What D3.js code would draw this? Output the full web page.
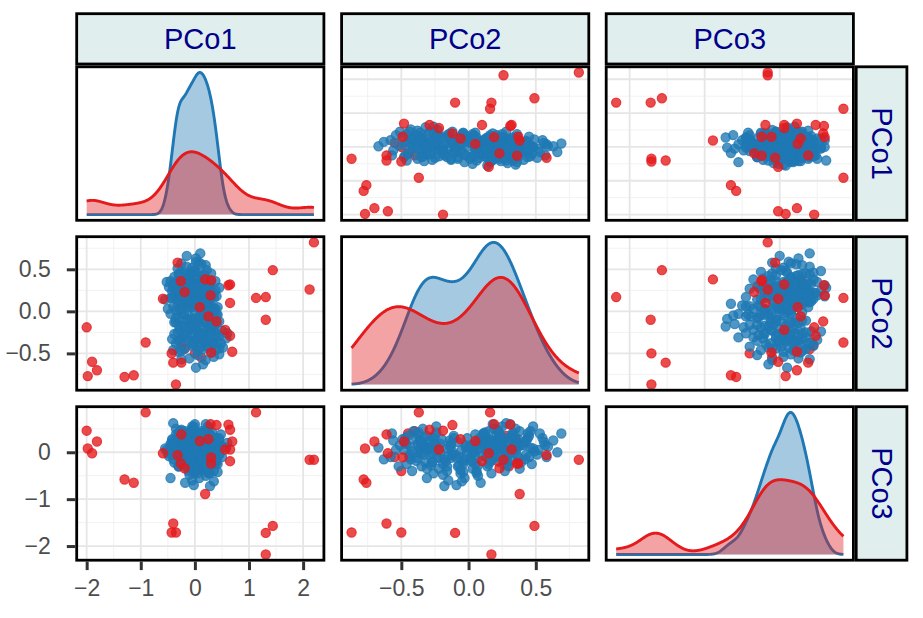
<!DOCTYPE html>
<html>
<head>
<meta charset="utf-8">
<script src="https://cdn.jsdelivr.net/npm/d3@7"></script>
<style>
  body { margin: 0; background: #fff; }
  svg { display: block; font-family: "Liberation Sans", Arial, Helvetica, sans-serif; }
</style>
</head>
<body>
<div id="chart"></div>
<script>
// variables of the pairs plot
const vars = ["PCo1", "PCo2", "PCo3"];

// red group; the first ten rows come before the blue rows in the data (drawn underneath)
const redPCo1 = [-0.30, -0.20, -0.12, -0.05, 0.00, 0.05, -0.25, 0.12, -0.15, 0.20,
  -2.00, -1.90, -1.81, -1.98, -1.30, -1.13, -0.91, -0.35, -0.32, -0.26, -0.19, -0.59,
  0.09, 0.19, 0.30, 0.29, 0.25, 0.62, 0.65, 0.56, 0.65, 0.69, 0.30, -0.43, -0.40, -0.25,
  1.13, 1.31, 1.44, 1.31, 2.12, 2.20, 0.40, 0.65];
const redPCo2 = [0.30, -0.45, 0.22, 0.35, -0.50, 0.18, -0.40, -0.55, 0.28, 0.25,
  -0.19, -0.60, -0.70, -0.77, -0.78, -0.76, -0.37, -0.87, 0.58, 0.36, 0.23, 0.15,
  0.05, 0.38, 0.37, 0.19, -0.06, 0.31, 0.32, -0.22, -0.29, -0.48, -0.49, -0.50, -0.61, -0.61,
  0.16, 0.17, 0.49, -0.10, 0.26, 0.82, -0.12, 0.10];
const redPCo3 = [-0.30, 0.40, -0.20, 0.30, -0.40, 0.20, 0.45, -0.10, 0.35, 0.10,
  0.46, -0.02, 0.23, 0.08, -0.58, -0.65, 0.85, -1.71, -0.06, -0.24, -0.34, -0.02,
  0.24, -0.89, -0.24, 0.60, 0.28, 0.59, 0.06, 0.06, 0.48, 0.23, -0.11, -1.71, -1.52, 0.38,
  0.85, -2.18, -1.57, -1.72, -0.16, -0.16, 0.58, -0.19];
const redUnderCount = 10;

// blue group (main cloud); each line is one PCo2 band, same order in all three arrays
const bluePCo2 = [
  -0.67, -0.63,
  -0.58, -0.56, -0.54, -0.52, -0.57, -0.51,
  -0.48, -0.47, -0.46, -0.45, -0.44, -0.43, -0.42, -0.41, -0.49, -0.44, -0.47, -0.43, -0.46, -0.42,
  -0.38, -0.37, -0.36, -0.35, -0.34, -0.33, -0.32, -0.31, -0.39, -0.36, -0.33, -0.38, -0.31, -0.39, -0.35, -0.34, -0.37, -0.32, -0.36, -0.30, -0.38, -0.33, -0.35, -0.31,
  -0.28, -0.27, -0.26, -0.25, -0.24, -0.23, -0.22, -0.21, -0.29, -0.27, -0.26, -0.21, -0.24, -0.28, -0.23, -0.25, -0.22, -0.29, -0.26, -0.24, -0.27, -0.20,
  -0.18, -0.17, -0.16, -0.15, -0.14, -0.13, -0.12, -0.19, -0.11, -0.18, -0.13, -0.16, -0.14, -0.19, -0.12, -0.17, -0.11, -0.15, -0.13,
  -0.08, -0.07, -0.06, -0.05, -0.04, -0.03, -0.02, -0.09, -0.01, -0.04, -0.06, -0.08, -0.03, -0.10, -0.05, -0.02, -0.07, -0.01, -0.09, -0.04,
  0.02, 0.03, 0.04, 0.05, 0.06, 0.07, 0.08, 0.09, 0.05, 0.03, 0.01, 0.08, 0.02, 0.06, 0.04, 0.09, 0.07, 0.01, 0.10, 0.05, 0.03, 0.08, 0.06, 0.04,
  0.11, 0.12, 0.13, 0.14, 0.15, 0.16, 0.17, 0.18, 0.19, 0.13, 0.16, 0.11, 0.14, 0.18, 0.12, 0.17, 0.19, 0.15, 0.16, 0.12, 0.14, 0.18, 0.11, 0.15, 0.17, 0.13, 0.19, 0.16, 0.12, 0.14, 0.18,
  0.21, 0.22, 0.23, 0.24, 0.25, 0.26, 0.27, 0.28, 0.29, 0.22, 0.25, 0.27, 0.23, 0.21, 0.28, 0.24, 0.29, 0.26, 0.23, 0.27, 0.21, 0.25, 0.28, 0.22, 0.26, 0.24, 0.29, 0.30, 0.23, 0.27,
  0.31, 0.32, 0.33, 0.34, 0.35, 0.36, 0.37, 0.38, 0.39, 0.31, 0.35, 0.37, 0.33, 0.36, 0.39, 0.32, 0.34, 0.38, 0.30, 0.36, 0.33, 0.37,
  0.42, 0.43, 0.44, 0.46, 0.47, 0.45, 0.48, 0.41, 0.49, 0.44, 0.42, 0.46, 0.48, 0.43, 0.45,
  0.52, 0.55, 0.57, 0.58, 0.53, 0.56, 0.51, 0.59,
  0.63, 0.66, 0.69];
const bluePCo1 = [
  0.02, 0.15,
  0.20, -0.10, 0.35, 0.05, -0.25, 0.45,
  -0.30, 0.05, 0.38, 0.15, -0.18, 0.52, 0.22, -0.05, 0.30, 0.45, -0.25, 0.10, -0.40, 0.25,
  -0.35, 0.12, 0.42, -0.10, 0.25, 0.02, 0.58, -0.22, 0.35, 0.18, -0.42, 0.48, 0.08, -0.02, 0.28, -0.28, 0.32, -0.15, 0.20, 0.40, -0.05, 0.15, -0.30, 0.05,
  -0.15, 0.20, 0.40, -0.32, 0.05, 0.50, -0.08, 0.30, 0.12, -0.38, 0.60, 0.00, 0.24, -0.22, 0.35, 0.15, -0.28, 0.45, -0.02, 0.28, 0.08, -0.12,
  -0.25, 0.10, 0.35, -0.05, 0.22, -0.38, 0.45, 0.02, -0.15, 0.28, 0.15, -0.30, 0.40, -0.10, 0.18, -0.20, 0.05, 0.32, -0.35,
  -0.30, 0.05, 0.25, -0.12, 0.40, -0.45, 0.15, -0.02, 0.32, -0.20, 0.10, -0.35, 0.20, -0.08, 0.35, -0.25, 0.28, 0.00, -0.15, 0.42,
  -0.28, 0.10, 0.30, -0.08, -0.40, 0.20, 0.00, -0.18, 0.42, -0.50, 0.12, -0.32, 0.25, -0.12, 0.35, -0.22, 0.05, -0.35, 0.18, -0.02, 0.38, -0.15, 0.28, -0.25,
  -0.05, 0.20, -0.30, 0.08, -0.18, 0.35, -0.42, 0.00, -0.10, 0.25, -0.25, 0.12, -0.55, 0.40, -0.15, 0.05, -0.35, 0.18, -0.02, -0.22, 0.28, -0.38, 0.15, -0.12, 0.30, -0.28, 0.10, -0.45, 0.22, -0.08, 0.02,
  -0.12, 0.15, -0.35, 0.30, -0.05, 0.05, -0.22, 0.45, -0.48, 0.10, -0.28, 0.22, -0.08, 0.35, -0.40, 0.00, -0.18, 0.28, -0.30, 0.18, -0.15, 0.38, -0.02, -0.25, 0.08, -0.42, 0.25, -0.10, 0.12, -0.32,
  -0.20, 0.10, -0.40, 0.25, -0.05, 0.38, -0.30, 0.02, -0.15, 0.20, -0.52, 0.12, -0.25, 0.30, -0.10, 0.05, -0.35, 0.18, -0.02, -0.45, 0.28, -0.12,
  -0.10, 0.15, -0.30, 0.05, -0.20, 0.30, -0.02, -0.38, 0.22, -0.15, 0.10, -0.28, 0.00, 0.18, -0.08,
  -0.05, 0.20, -0.25, 0.08, -0.15, 0.12, -0.32, 0.02,
  0.02, -0.15, 0.10];
const bluePCo3 = [
  0.10, -0.15,
  -0.10, 0.25, 0.05, -0.30, 0.40, 0.15,
  0.05, 0.20, -0.25, 0.35, -0.10, 0.12, -0.40, 0.45, 0.28, -0.05, 0.30, -0.15, 0.18, 0.02,
  0.18, 0.00, 0.22, -0.30, 0.50, 0.15, 0.10, 0.35, -0.18, 0.08, -0.05, 0.38, -0.55, 0.28, -0.02, 0.12, 0.42, -0.22, 0.25, 0.05, -0.12, 0.30, 0.20, -0.35,
  0.12, -0.20, 0.30, 0.05, 0.42, -0.10, -0.35, 0.18, -0.05, -0.22, 0.20, 0.00, 0.55, -0.28, 0.08, 0.35, -0.12, 0.25, -0.45, 0.15, -0.02, 0.28,
  -0.15, 0.08, -0.40, -0.60, 0.25, 0.20, -0.05, -0.25, 0.35, -0.72, -0.12, -0.30, 0.12, -0.48, 0.02, -0.20, 0.30, -0.08, 0.15,
  -0.30, -0.10, -0.45, 0.05, -0.20, -0.55, 0.15, -0.70, 0.00, -0.25, -0.38, 0.22, -0.15, -0.05, -0.62, 0.10, -0.28, 0.30, -0.12, -0.42,
  -0.18, -0.35, 0.05, -0.05, 0.20, -0.50, 0.10, -0.65, -0.25, -0.02, -0.12, 0.30, 0.15, -0.40, 0.00, 0.25, -0.28, 0.12, -0.08, 0.38, -0.20, 0.08, -0.45, 0.18,
  0.15, 0.35, -0.10, -0.30, 0.45, 0.05, 0.25, 0.60, -0.05, 0.22, 0.10, 0.40, 0.08, -0.15, 0.30, -0.45, 0.50, 0.12, -0.20, 0.18, 0.28, 0.02, 0.38, -0.25, 0.20, 0.32, -0.08, 0.14, 0.42, 0.00, 0.25,
  0.20, -0.10, 0.38, 0.15, 0.55, -0.25, 0.05, 0.30, -0.08, 0.45, 0.18, -0.40, 0.32, 0.00, 0.62, 0.10, -0.28, 0.25, 0.12, -0.15, 0.35, 0.22, -0.02, 0.48, 0.08, 0.28, -0.20, 0.15, 0.40, 0.02,
  0.10, 0.35, -0.15, 0.20, 0.50, -0.05, 0.28, -0.35, 0.15, 0.60, 0.05, -0.12, 0.42, 0.22, -0.22, 0.30, 0.08, 0.45, -0.02, 0.18, 0.38, 0.12,
  0.22, -0.05, 0.40, 0.10, -0.25, 0.35, 0.55, 0.15, 0.02, 0.30, -0.15, 0.45, 0.08, 0.25, -0.10,
  0.05, 0.30, 0.15, -0.10, 0.40, 0.22, -0.05, 0.12,
  0.25, 0.00, 0.40];

// axis breaks and their labels
const majorBreaks = { PCo1: [-2, -1, 0, 1, 2], PCo2: [-0.5, 0, 0.5], PCo3: [-2, -1, 0] };
const tickLabels = { PCo1: ["\u22122", "\u22121", "0", "1", "2"], PCo2: ["\u22120.5", "0.0", "0.5"], PCo3: ["\u22122", "\u22121", "0"] };

const groups = [
  { key: "blue", color: "#1F78B4", values: { PCo1: bluePCo1, PCo2: bluePCo2, PCo3: bluePCo3 } },
  { key: "red",  color: "#E41A1C", values: { PCo1: redPCo1,  PCo2: redPCo2,  PCo3: redPCo3 } }
];
const blueN = d3.min(vars, v => groups[0].values[v].length);
const redN = d3.min(vars, v => groups[1].values[v].length);
// point layers in data order
const layers = [
  { gr: groups[1], idx: d3.range(0, redUnderCount) },
  { gr: groups[0], idx: d3.range(0, blueN) },
  { gr: groups[1], idx: d3.range(redUnderCount, redN) }
];

const W = 923, H = 618;
const colX = [75.3, 340.2, 604.8], panelW = 250;
const rowY = [65.4, 235.3, 405.3], panelH = 156.3;
const BW = 2.8;                 // border width
const stripFill = "#E0EEEE", stripText = "#00008B";
const font = "\"Liberation Sans\", Arial, sans-serif";

const svg = d3.select("#chart").append("svg")
  .attr("width", W).attr("height", H)
  .attr("viewBox", [0, 0, W, H]);
const defs = svg.append("defs");

// domains: data range + 5% each side (ggplot default)
const ranges = {};
vars.forEach(v => {
  const all = groups[0].values[v].concat(groups[1].values[v]);
  const [lo, hi] = d3.extent(all);
  const pad = (hi - lo) * 0.05;
  ranges[v] = { lo, hi, domain: [lo - pad, hi + pad] };
});

function xScale(c) {
  return d3.scaleLinear().domain(ranges[vars[c]].domain).range([colX[c], colX[c] + panelW]);
}
function yScale(r) {
  return d3.scaleLinear().domain(ranges[vars[r]].domain).range([rowY[r] + panelH, rowY[r]]);
}

function minorBreaks(v) {
  const mj = majorBreaks[v], step = mj[1] - mj[0];
  const out = [];
  for (let b = mj[0] - step / 2; b <= mj[mj.length - 1] + step / 2 + 1e-9; b += step) out.push(b);
  const [a, z] = ranges[v].domain;
  return out.filter(b => b > a && b < z);
}

// gaussian kernel density, bandwidth as R's bw.nrd0
function bwNrd0(v) {
  const s = d3.sort(v);
  const sd = d3.deviation(s);
  const iqr = d3.quantileSorted(s, 0.75) - d3.quantileSorted(s, 0.25);
  const lo = Math.min(sd, iqr / 1.34) || sd || 1;
  return 0.9 * lo * Math.pow(s.length, -0.2);
}
function kde(v, xs) {
  const bw = bwNrd0(v);
  const k = 1 / (Math.sqrt(2 * Math.PI) * bw * v.length);
  return xs.map(x => [x, k * d3.sum(v, t => Math.exp(-0.5 * ((x - t) / bw) ** 2))]);
}

for (let r = 0; r < 3; r++) {
  for (let c = 0; c < 3; c++) {
    const x = xScale(c);
    const px = colX[c], py = rowY[r];
    const clipId = `clip-${r}-${c}`;
    defs.append("clipPath").attr("id", clipId)
      .append("rect").attr("x", px).attr("y", py).attr("width", panelW).attr("height", panelH);

    const g = svg.append("g");
    g.append("rect").attr("x", px).attr("y", py).attr("width", panelW).attr("height", panelH).attr("fill", "#fff");
    const inner = g.append("g").attr("clip-path", `url(#${clipId})`);

    if (r === c) {
      // diagonal: densities per group
      const v = vars[c];
      const { lo, hi } = ranges[v];
      const xs = d3.range(512).map(i => lo + (hi - lo) * i / 511);
      const dens = groups.map(gr => ({ gr, pts: kde(gr.values[v], xs) }));
      const maxD = d3.max(dens, d => d3.max(d.pts, p => p[1]));
      const y = d3.scaleLinear().domain([-0.05 * maxD, 1.05 * maxD]).range([py + panelH, py]);
      const area = d3.area().x(p => x(p[0])).y0(y(0)).y1(p => y(p[1]));
      const line = d3.line().x(p => x(p[0])).y(p => y(p[1]));
      dens.forEach(d => {
        inner.append("path").attr("d", area(d.pts)).attr("fill", d.gr.color).attr("fill-opacity", 0.4);
        inner.append("path").attr("d", line(d.pts)).attr("fill", "none")
          .attr("stroke", d.gr.color).attr("stroke-width", 2.9).attr("stroke-linejoin", "round");
      });
    } else {
      const y = yScale(r);
      const vx = vars[c], vy = vars[r];
      // grid
      minorBreaks(vx).forEach(b => inner.append("line").attr("x1", x(b)).attr("x2", x(b))
        .attr("y1", py).attr("y2", py + panelH).attr("stroke", "#F2F2F2").attr("stroke-width", 1));
      minorBreaks(vy).forEach(b => inner.append("line").attr("y1", y(b)).attr("y2", y(b))
        .attr("x1", px).attr("x2", px + panelW).attr("stroke", "#F2F2F2").attr("stroke-width", 1));
      majorBreaks[vx].forEach(b => inner.append("line").attr("x1", x(b)).attr("x2", x(b))
        .attr("y1", py).attr("y2", py + panelH).attr("stroke", "#E6E6E6").attr("stroke-width", 1.8));
      majorBreaks[vy].forEach(b => inner.append("line").attr("y1", y(b)).attr("y2", y(b))
        .attr("x1", px).attr("x2", px + panelW).attr("stroke", "#E6E6E6").attr("stroke-width", 1.8));
      // points
      layers.forEach(({ gr, idx }) => {
        const xv = gr.values[vx], yv = gr.values[vy];
        inner.selectAll(null).data(idx).enter().append("circle")
          .attr("cx", i => x(xv[i])).attr("cy", i => y(yv[i])).attr("r", 4.6)
          .attr("fill", gr.color).attr("fill-opacity", 0.78)
          .attr("stroke", gr.color).attr("stroke-opacity", 0.78).attr("stroke-width", 1.2);
      });
    }

    g.append("rect").attr("x", px + BW / 2).attr("y", py + BW / 2)
      .attr("width", panelW - BW).attr("height", panelH - BW)
      .attr("fill", "none").attr("stroke", "#000").attr("stroke-width", BW);
  }
}

// left axes (rows 2, 3)
[1, 2].forEach(r => {
  const v = vars[r];
  const ax = d3.axisLeft(yScale(r)).tickValues(majorBreaks[v])
    .tickFormat((d, i) => tickLabels[v][i]).tickSize(8.5).tickPadding(16);
  const a = svg.append("g").attr("transform", `translate(${colX[0]},0)`).call(ax);
  a.select(".domain").remove();
  a.selectAll(".tick line").attr("stroke", "#333").attr("stroke-width", 3);
  a.selectAll(".tick text").attr("fill", "#4D4D4D").attr("font-size", 23).attr("font-family", font);
});

// bottom axes (cols 1, 2)
[0, 1].forEach(c => {
  const v = vars[c];
  const ax = d3.axisBottom(xScale(c)).tickValues(majorBreaks[v])
    .tickFormat((d, i) => tickLabels[v][i]).tickSize(8.5).tickPadding(10);
  const a = svg.append("g").attr("transform", `translate(0,${rowY[2] + panelH})`).call(ax);
  a.select(".domain").remove();
  a.selectAll(".tick line").attr("stroke", "#333").attr("stroke-width", 3);
  a.selectAll(".tick text").attr("fill", "#4D4D4D").attr("font-size", 23).attr("font-family", font);
});

// top strips
const stripTop = 12.3, stripH = rowY[0] - stripTop;
vars.forEach((v, c) => {
  svg.append("rect").attr("x", colX[c] + BW / 2).attr("y", stripTop + BW / 2)
    .attr("width", panelW - BW).attr("height", stripH - BW)
    .attr("fill", stripFill).attr("stroke", "#000").attr("stroke-width", BW);
  svg.append("text").attr("x", colX[c] + panelW / 2).attr("y", stripTop + stripH / 2)
    .attr("text-anchor", "middle").attr("dominant-baseline", "central")
    .attr("font-size", 29).attr("fill", stripText).text(v);
});

// right strips
const stripX = colX[2] + panelW, stripW = 53.5;
vars.forEach((v, r) => {
  svg.append("rect").attr("x", stripX + BW / 2).attr("y", rowY[r] + BW / 2)
    .attr("width", stripW - BW).attr("height", panelH - BW)
    .attr("fill", stripFill).attr("stroke", "#000").attr("stroke-width", BW);
  const cx = stripX + stripW / 2, cy = rowY[r] + panelH / 2;
  svg.append("text").attr("transform", `translate(${cx},${cy}) rotate(90)`)
    .attr("text-anchor", "middle").attr("dominant-baseline", "central")
    .attr("font-size", 29).attr("fill", stripText).text(v);
});
</script>
</body>
</html>
